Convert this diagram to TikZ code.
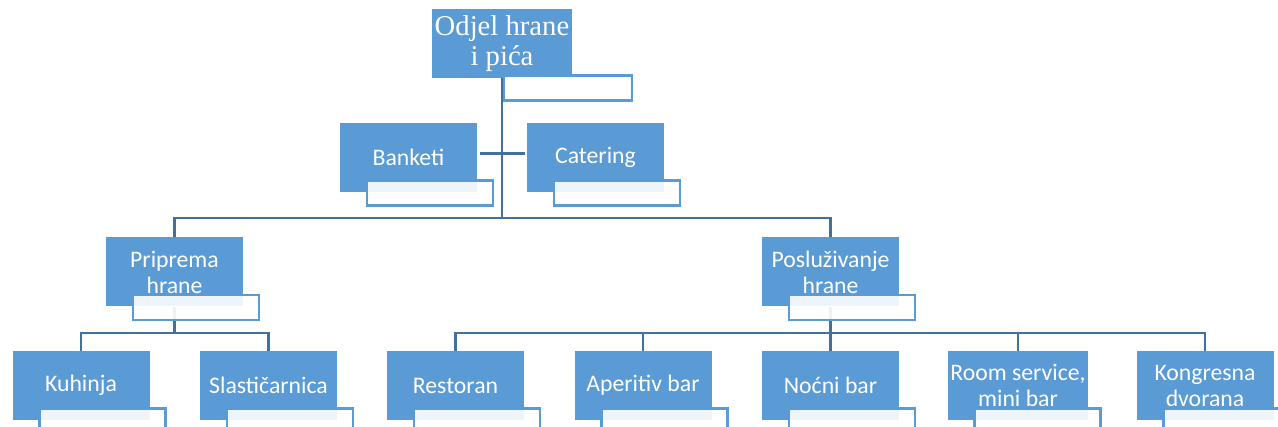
\documentclass[tikz,border=0pt]{standalone}
\usepackage{fontspec}
\setmainfont{Carlito}
\newfontfamily\timesfont{Liberation Serif}
\usetikzlibrary{positioning,backgrounds}
\definecolor{boxblue}{HTML}{5B9BD5}
\definecolor{lineblue}{HTML}{41719C}
\tikzset{
  unit/.style={fill=boxblue,minimum width=102.75pt,minimum height=51.75pt,inner sep=2pt,
    text=white,align=center,font=\fontsize{17.8}{19.5}\selectfont},
  tagbox/.style={fill=white,fill opacity=0.9,draw=boxblue,line width=1.8pt,
    minimum width=94.5pt,minimum height=18.75pt,inner sep=0pt,anchor=north west},
  link/.style={draw=lineblue,line width=2pt}
}
\newcommand\tagfor[1]{\node[tagbox] (#1-t) at ([xshift=19.5pt,yshift=9.75pt]#1.south west) {};}

\begin{document}
\begin{tikzpicture}[x=0.75pt,y=-0.75pt]
\useasboundingbox (0,0) rectangle (1278,427);

\node[unit,minimum width=103.5pt,font=\timesfont\fontsize{21.5}{22.5}\selectfont] (top) at (502,43.5) {Odjel hrane\\i pića};
\node[tagbox,minimum width=96pt] (top-t) at ([xshift=0.75pt,yshift=3pt]top.south) {};

\node[unit] (bank) at (408.5,157.5) {Banketi};
\tagfor{bank}
\node[unit] (cat) at (595.5,157.5) {Catering};
\tagfor{cat}

\node[unit] (prip) at (174.5,272) {Priprema\\hrane};
\tagfor{prip}
\node[unit] (posl) at (830.5,272) {Posluživanje\\hrane};
\tagfor{posl}

\node[unit] (kuh) at (81,385.5) {Kuhinja};
\tagfor{kuh}
\node[unit] (slas) at (268.5,385.5) {Slastičarnica};
\tagfor{slas}
\node[unit] (rest) at (455.5,385.5) {Restoran};
\tagfor{rest}
\node[unit] (aper) at (643,385.5) {Aperitiv bar};
\tagfor{aper}
\node[unit] (noc) at (830.5,385.5) {Noćni bar};
\tagfor{noc}
\node[unit] (room) at (1018,385.5) {Room service,\\mini bar};
\tagfor{room}
\node[unit] (kong) at (1205,385.5) {Kongresna\\dvorana};
\tagfor{kong}

\coordinate (bus1) at (502,218);
\coordinate (bus2) at (174.5,333);
\coordinate (bus3) at (830.5,333);

\begin{pgfonlayer}{background}
\draw[link] (top.south) -- (bus1);
\draw[link] ([yshift=3pt]bank.east) ++(2.25pt,0) -- ([yshift=3pt,xshift=-1.5pt]cat.west);
\draw[link] (prip.north) |- (bus1) -| (posl.north);
\draw[link] (prip.south) -- (bus2);
\draw[link] (kuh.north) |- (bus2) -| (slas.north);
\draw[link] (posl.south) -- (bus3);
\draw[link] (rest.north) |- (bus3) -| (kong.north);
\draw[link] (aper.north) -- (aper.north |- bus3);
\draw[link] (noc.north) -- (bus3);
\draw[link] (room.north) -- (room.north |- bus3);
\end{pgfonlayer}
\end{tikzpicture}
\end{document}
